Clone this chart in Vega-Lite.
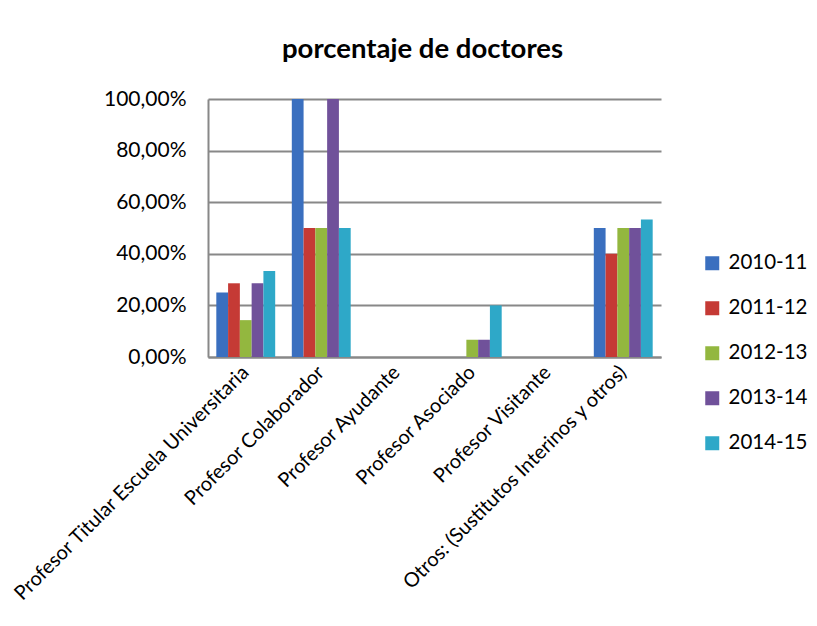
{
  "$schema": "https://vega.github.io/schema/vega-lite/v6.json",
  "autosize": "none",
  "width": 453,
  "height": 258,
  "padding": {"left": 208, "top": 99, "right": 156, "bottom": 269},
  "background": "white",
  "config": {
    "font": "Lato",
    "locale": {"number": {"decimal": ",", "thousands": ".", "grouping": [3], "currency": ["", " €"]}},
    "view": {"stroke": null}
  },
  "title": {
    "text": "porcentaje de doctores",
    "fontSize": 27.5,
    "fontWeight": "bold",
    "font": "Lato",
    "color": "#000000",
    "anchor": "middle",
    "offset": 25,
    "dx": -12
  },
  "data": {
    "values": [
      {"cat": "Profesor Titular Escuela Universitaria", "curso": "2010-11", "v": 0.25},
      {"cat": "Profesor Titular Escuela Universitaria", "curso": "2011-12", "v": 0.2857},
      {"cat": "Profesor Titular Escuela Universitaria", "curso": "2012-13", "v": 0.1429},
      {"cat": "Profesor Titular Escuela Universitaria", "curso": "2013-14", "v": 0.2857},
      {"cat": "Profesor Titular Escuela Universitaria", "curso": "2014-15", "v": 0.3333},
      {"cat": "Profesor Colaborador", "curso": "2010-11", "v": 1.0},
      {"cat": "Profesor Colaborador", "curso": "2011-12", "v": 0.5},
      {"cat": "Profesor Colaborador", "curso": "2012-13", "v": 0.5},
      {"cat": "Profesor Colaborador", "curso": "2013-14", "v": 1.0},
      {"cat": "Profesor Colaborador", "curso": "2014-15", "v": 0.5},
      {"cat": "Profesor Ayudante", "curso": "2010-11", "v": 0},
      {"cat": "Profesor Ayudante", "curso": "2011-12", "v": 0},
      {"cat": "Profesor Ayudante", "curso": "2012-13", "v": 0},
      {"cat": "Profesor Ayudante", "curso": "2013-14", "v": 0},
      {"cat": "Profesor Ayudante", "curso": "2014-15", "v": 0},
      {"cat": "Profesor Asociado", "curso": "2010-11", "v": 0},
      {"cat": "Profesor Asociado", "curso": "2011-12", "v": 0},
      {"cat": "Profesor Asociado", "curso": "2012-13", "v": 0.0667},
      {"cat": "Profesor Asociado", "curso": "2013-14", "v": 0.0667},
      {"cat": "Profesor Asociado", "curso": "2014-15", "v": 0.2},
      {"cat": "Profesor Visitante", "curso": "2010-11", "v": 0},
      {"cat": "Profesor Visitante", "curso": "2011-12", "v": 0},
      {"cat": "Profesor Visitante", "curso": "2012-13", "v": 0},
      {"cat": "Profesor Visitante", "curso": "2013-14", "v": 0},
      {"cat": "Profesor Visitante", "curso": "2014-15", "v": 0},
      {"cat": "Otros: (Sustitutos Interinos y otros)", "curso": "2010-11", "v": 0.5},
      {"cat": "Otros: (Sustitutos Interinos y otros)", "curso": "2011-12", "v": 0.4},
      {"cat": "Otros: (Sustitutos Interinos y otros)", "curso": "2012-13", "v": 0.5},
      {"cat": "Otros: (Sustitutos Interinos y otros)", "curso": "2013-14", "v": 0.5},
      {"cat": "Otros: (Sustitutos Interinos y otros)", "curso": "2014-15", "v": 0.5333}
    ]
  },
  "mark": {"type": "bar"},
  "encoding": {
    "x": {
      "field": "cat",
      "type": "nominal",
      "sort": null,
      "scale": {"paddingInner": 0.22, "paddingOuter": 0.11},
      "axis": {
        "title": null,
        "labelAngle": -45,
        "labelAlign": "right",
        "labelBaseline": "middle",
        "labelFontSize": 20,
        "labelColor": "#000000",
        "labelPadding": 12,
        "labelLimit": 0,
        "ticks": false,
        "domainColor": "#888888",
        "domainWidth": 2
      }
    },
    "xOffset": {"field": "curso", "type": "nominal", "scale": {"paddingInner": 0, "paddingOuter": 0}},
    "y": {
      "field": "v",
      "type": "quantitative",
      "scale": {"domain": [0, 1], "nice": false},
      "axis": {
        "title": null,
        "format": ".2%",
        "values": [0, 0.2, 0.4, 0.6, 0.8, 1.0],
        "labelFontSize": 21,
        "labelColor": "#000000",
        "labelPadding": 22,
        "ticks": false,
        "domainColor": "#888888",
        "domainWidth": 2,
        "gridColor": "#888888",
        "gridWidth": 2
      }
    },
    "color": {
      "field": "curso",
      "type": "nominal",
      "scale": {
        "domain": ["2010-11", "2011-12", "2012-13", "2013-14", "2014-15"],
        "range": ["#3a6fbf", "#c53a35", "#93b73f", "#70519a", "#2ea8c8"]
      },
      "legend": {
        "title": null,
        "orient": "none",
        "legendX": 494,
        "legendY": 154,
        "symbolType": "square",
        "symbolSize": 196,
        "symbolStrokeWidth": 0,
        "labelFontSize": 20.5,
        "labelColor": "#000000",
        "rowPadding": 24,
        "labelOffset": 6
      }
    }
  }
}
